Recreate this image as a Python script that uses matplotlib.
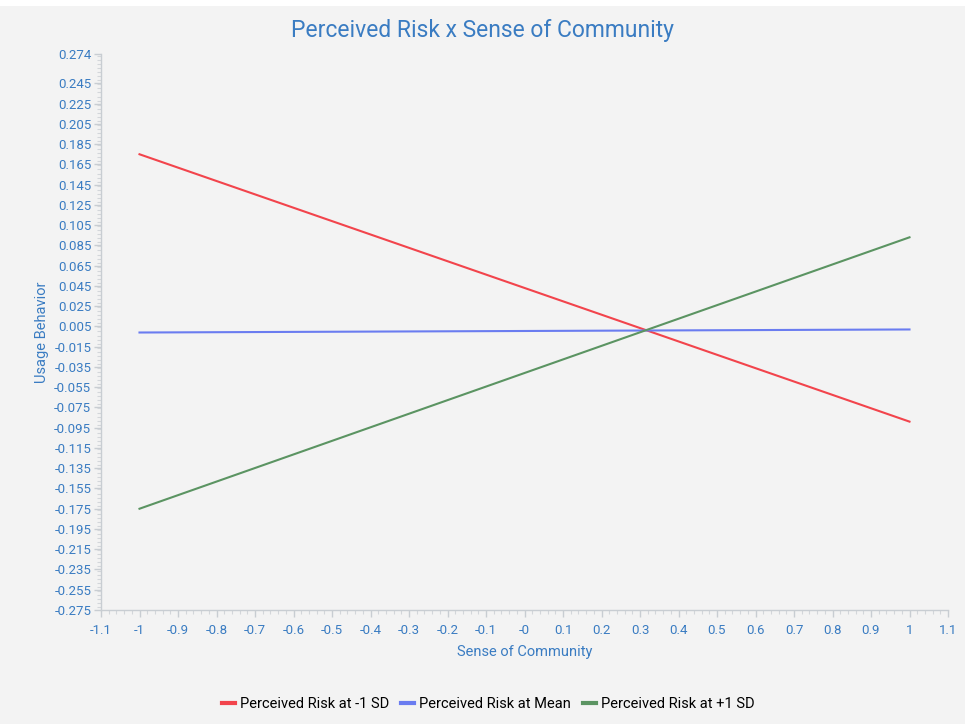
import matplotlib
matplotlib.use("Agg")
import matplotlib.pyplot as plt
import numpy as np
from matplotlib.ticker import MultipleLocator

# Simple-slope data: Usage Behavior vs Sense of Community
x_vals = [-1, 1]
risk_low = [0.175, -0.089]     # Perceived Risk at -1 SD
risk_mean = [-0.001, 0.002]    # Perceived Risk at Mean
risk_high = [-0.175, 0.093]    # Perceived Risk at +1 SD

series_names = ["Perceived Risk at -1 SD", "Perceived Risk at Mean", "Perceived Risk at +1 SD"]
series_colors = ["#f2444c", "#6a7cf0", "#5b9462"]

x_ticks = [-1.1, -1, -0.9, -0.8, -0.7, -0.6, -0.5, -0.4, -0.3, -0.2, -0.1, 0,
           0.1, 0.2, 0.3, 0.4, 0.5, 0.6, 0.7, 0.8, 0.9, 1, 1.1]
x_tick_labels = ["-1.1", "-1", "-0.9", "-0.8", "-0.7", "-0.6", "-0.5", "-0.4", "-0.3",
                 "-0.2", "-0.1", "-0", "0.1", "0.2", "0.3", "0.4", "0.5", "0.6", "0.7",
                 "0.8", "0.9", "1", "1.1"]
y_ticks = [0.274] + [round(0.245 - 0.02 * i, 3) for i in range(27)]
y_tick_labels = ["0.274"] + [f"{v:.3f}" for v in y_ticks[1:]]

text_color = "#3a7cc2"
bg = "#f3f3f3"

plt.rcParams["font.family"] = ["Roboto", "DejaVu Sans"]

fig = plt.figure(figsize=(9.65, 7.24), dpi=100)
fig.patch.set_facecolor(bg)
ax = fig.add_axes([101 / 965, 1 - 610 / 724, (948 - 101) / 965, (610 - 54) / 724])
ax.set_facecolor(bg)

for vals, name, col in zip([risk_low, risk_mean, risk_high], series_names, series_colors):
    ax.plot(x_vals, vals, color=col, lw=1.5, label=name)

ax.set_xlim(-1.1, 1.1)
ax.set_ylim(-0.275, 0.274)
ax.set_xticks(x_ticks)
ax.set_xticklabels(x_tick_labels)
ax.set_yticks(y_ticks)
ax.set_yticklabels(y_tick_labels)
ax.xaxis.set_minor_locator(MultipleLocator(0.02))
ax.yaxis.set_minor_locator(MultipleLocator(0.004))

for s in ["top", "right"]:
    ax.spines[s].set_visible(False)
for s in ["left", "bottom"]:
    ax.spines[s].set_color("#c8cdd2")
    ax.spines[s].set_linewidth(1)

ax.tick_params(axis="both", which="major", colors="#c8cdd2", labelcolor=text_color,
               labelsize=9.5, length=5, width=1)
ax.tick_params(axis="both", which="minor", colors="#d3d6da", length=3, width=0.8)
ax.tick_params(axis="x", pad=5)
ax.tick_params(axis="y", pad=2)

ax.set_xlabel("Sense of Community", color=text_color, fontsize=10.5, labelpad=6)
ax.set_ylabel("Usage Behavior", color=text_color, fontsize=10.5, labelpad=4)

fig.text(0.5, 1 - 31 / 724, "Perceived Risk x Sense of Community", ha="center", va="center",
         color=text_color, fontsize=16.5)

# thin white strip at the top edge
fig.patches.append(plt.Rectangle((0, 1 - 6 / 724), 1, 6 / 724, transform=fig.transFigure,
                                 facecolor="white", edgecolor="none"))

leg = fig.legend(loc="center", bbox_to_anchor=(488 / 965, 1 - 704 / 724), ncol=3,
                 frameon=False, fontsize=10.5, handlelength=0.9, handletextpad=0.35,
                 columnspacing=0.8)
for line in leg.get_lines():
    line.set_linewidth(3)

fig.savefig("out.png", dpi=100, facecolor=bg)
